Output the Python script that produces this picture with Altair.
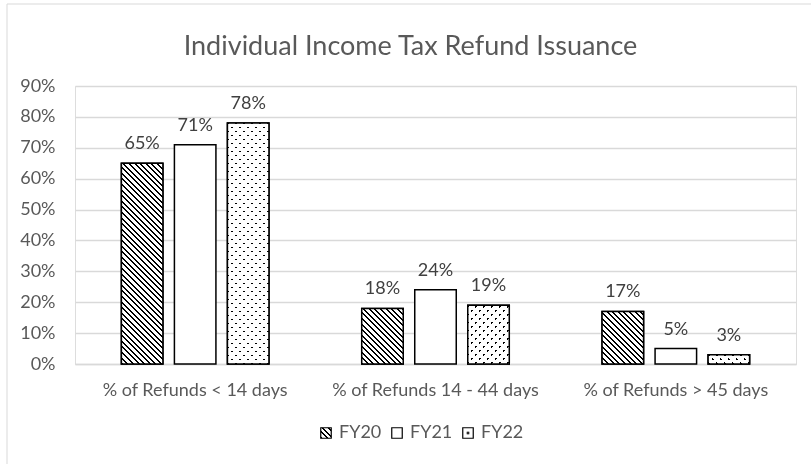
import altair as alt
import pandas as pd

# ---- data ----
CATEGORIES = ["% of Refunds < 14 days", "% of Refunds 14 - 44 days", "% of Refunds > 45 days"]
SERIES = ["FY20", "FY21", "FY22"]
FY20 = [65, 18, 17]
FY21 = [71, 24, 5]
FY22 = [78, 19, 3]
Y_TICKS = [0, 10, 20, 30, 40, 50, 60, 70, 80, 90]

rows = []
for s, vals in zip(SERIES, [FY20, FY21, FY22]):
    for c, v in zip(CATEGORIES, vals):
        rows.append({"category": c, "series": s, "value": v, "label": f"{v}%"})
df = pd.DataFrame(rows)

FONT = "Lato"
AXIS_GRAY = "#595959"
LABEL_GRAY = "#404040"
GRID = "#d9d9d9"


# ---- fill patterns made from striped linear gradients ----
def stripes(period, thick, length):
    stops = []
    x = 0.0
    while x < length - 1e-9:
        a = round(x / length, 5)
        b = round(min((x + thick) / length, 1.0), 5)
        c = round(min((x + period) / length, 1.0), 5)
        stops += [{"offset": a, "color": "#000000"}, {"offset": b, "color": "#000000"}]
        if b < 1.0:
            stops += [{"offset": b, "color": "#ffffff"}, {"offset": c, "color": "#ffffff"}]
        x += period
    return stops


HATCH_P, HATCH_W, HATCH_N = 5.6, 2.0, 56
DOT_P, DOT_W, DOT_N = 8.0, 2.4, 40
L_H = HATCH_P * HATCH_N
L_D = DOT_P * DOT_N
SYM_SIZE = 110
SYM = SYM_SIZE ** 0.5

p_hs = alt.param(name="hatchStops", value=stripes(HATCH_P, HATCH_W, L_H))
p_ds = alt.param(name="dotStops", value=stripes(DOT_P, DOT_W, L_D))
p_hl = alt.param(name="hatchLegend", value={
    "gradient": "linear", "x1": 0, "y1": 1, "x2": 1, "y2": 0,
    "stops": stripes(HATCH_P, HATCH_W, 2 * SYM)})
p_dl = alt.param(name="dotLegend", value={
    "gradient": "radial", "x1": 0.5, "y1": 0.5, "r1": 0, "x2": 0.5, "y2": 0.5, "r2": 0.5,
    "stops": [{"offset": 0, "color": "#000000"}, {"offset": 0.2, "color": "#000000"},
              {"offset": 0.3, "color": "#ffffff"}, {"offset": 1, "color": "#ffffff"}]})

W = "bandwidth('xOffset')"
H = "(scale('y', 0) - scale('y', datum.value))"


def back_grad(L, stops):
    c = f"({L} / ({W}*{W} + {H}*{H}))"
    return f"{{gradient: 'linear', x1: 0, y1: 1, x2: {c}*{W}, y2: 1 - {c}*{H}, stops: {stops}}}"


def fwd_grad(L, stops):
    c = f"({L} / ({W}*{W} + {H}*{H}))"
    return f"{{gradient: 'linear', x1: 0, y1: 0, x2: {c}*{W}, y2: {c}*{H}, stops: {stops}}}"


expr_back = f"datum.series === 'FY20' ? {back_grad(L_H, 'hatchStops')} : {back_grad(L_D, 'dotStops')}"
expr_front = fwd_grad(L_D, "dotStops")

base = alt.Chart(df).encode(
    x=alt.X("category:N", sort=CATEGORIES, title=None,
            scale=alt.Scale(paddingInner=0, paddingOuter=0),
            axis=alt.Axis(labelAngle=0, labelFont=FONT, labelFontSize=18, labelColor=AXIS_GRAY,
                          labelPadding=17, labelLimit=400, ticks=False, tickSize=0,
                          domainColor=GRID, domainWidth=1.5, grid=False)),
    xOffset=alt.XOffset("series:N", sort=SERIES,
                        scale=alt.Scale(domain=SERIES, paddingInner=0.217, paddingOuter=0.875)),
    y=alt.Y("value:Q", title=None, stack=None,
            scale=alt.Scale(domain=[0, 90], nice=False),
            axis=alt.Axis(values=Y_TICKS, labelExpr="datum.value + '%'", labelFont=FONT,
                          labelFontSize=18, labelColor=AXIS_GRAY, labelPadding=20,
                          ticks=False, tickSize=0, domain=False, gridColor=GRID,
                          gridWidth=1.5)),
)

bars_legend = base.mark_bar(stroke="black", strokeWidth=1.5).encode(
    fill=alt.Fill("series:N",
                  scale=alt.Scale(domain=SERIES,
                                  range=[{"expr": "hatchLegend"}, "white", {"expr": "dotLegend"}]),
                  legend=alt.Legend(title=None, orient="none", legendX=242, legendY=338,
                                    direction="horizontal", symbolType="square",
                                    symbolSize=SYM_SIZE, symbolStrokeColor="black",
                                    symbolStrokeWidth=1.2, labelFont=FONT, labelFontSize=18,
                                    labelColor=AXIS_GRAY, labelOffset=4, columnPadding=6))
)

bars_back = base.mark_bar(stroke="black", strokeWidth=1.5, fill={"expr": expr_back}).transform_filter(
    "datum.series !== 'FY21'")

bars_front = base.mark_bar(stroke="black", strokeWidth=1.5, fill={"expr": expr_front},
                           blend="lighten").transform_filter("datum.series === 'FY22'")

labels = base.mark_text(baseline="alphabetic", dy=-14, font=FONT, fontSize=18,
                        color=LABEL_GRAY).encode(text="label:N")

border = alt.Chart(alt.Data(values=[{"k": 0}])).mark_rule(color=GRID, strokeWidth=1).encode(
    x=alt.value(-68), y=alt.value(-82), y2=alt.value(400))
border_top = alt.Chart(alt.Data(values=[{"k": 0}])).mark_rule(color=GRID, strokeWidth=1).encode(
    x=alt.value(-68), x2=alt.value(800), y=alt.value(-82))

chart = alt.layer(border, border_top, bars_legend, bars_back, bars_front, labels).add_params(
    p_hs, p_ds, p_hl, p_dl
).properties(
    width=721, height=278, autosize="none",
    padding={"left": 75, "top": 86, "right": 15, "bottom": 100},
    title=alt.TitleParams("Individual Income Tax Refund Issuance", font=FONT, fontSize=27,
                          fontWeight="normal", color=AXIS_GRAY, anchor="middle", frame="group",
                          dx=-25, baseline="alphabetic", offset=-78),
).configure_view(stroke=None).configure(background="white")

chart.save("out.html", embed_options={"renderer": "svg", "actions": False})
